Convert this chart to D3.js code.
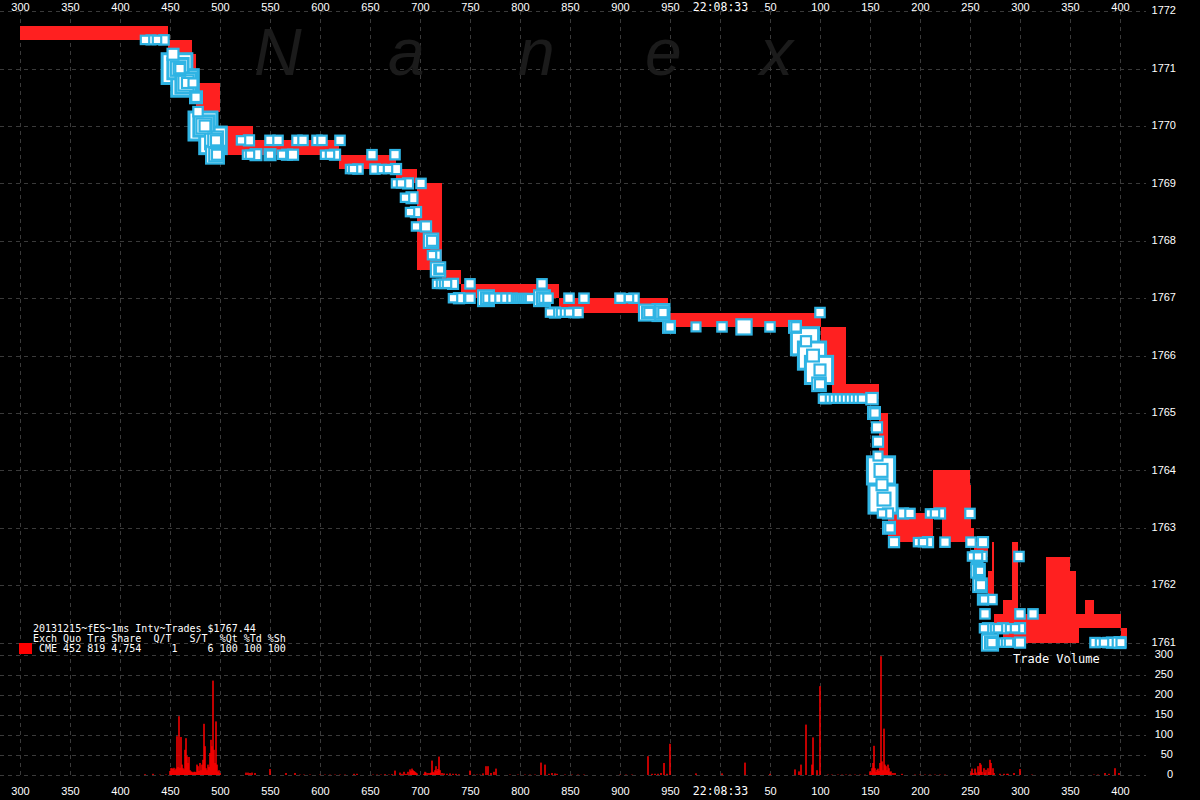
<!DOCTYPE html>
<html><head><meta charset="utf-8">
<script src="https://cdn.jsdelivr.net/npm/d3@7"></script>
<style>
html,body{margin:0;padding:0;background:#000;}
svg{display:block;}
text{white-space:pre;}
</style></head><body>
<svg id="c" width="1200" height="800"></svg>
<script>
// ---------- DATA ----------
// time in ms after 22:08:32.000 (1000 = 22:08:33)
const timeTicks = [300,350,400,450,500,550,600,650,700,750,800,850,900,950,1000,1050,1100,1150,1200,1250,1300,1350,1400];
const timeTickLabels = ["300","350","400","450","500","550","600","650","700","750","800","850","900","950","22:08:33","50","100","150","200","250","300","350","400"];
const priceTicks = [1761,1762,1763,1764,1765,1766,1767,1768,1769,1770,1771,1772];
const volumeTicks = [0,50,100,150,200,250,300];

// quotes: [start time, bid, ask] (each lasts until the next start)
const quotes = [
[300,1771.5,1771.75],[448,1771.25,1771.5],[472,1771.0,1771.25],[476,1770.25,1770.75],
[500,1769.5,1770.0],[533,1769.5,1769.75],[619,1769.25,1769.5],[676,1769.0,1769.25],
[697,1767.5,1769.0],[722,1767.25,1767.5],[741,1767.0,1767.25],[839,1766.75,1767.0],
[948,1766.5,1766.75],[1101,1765.5,1766.5],[1112,1765.25,1766.5],[1126,1765.25,1765.5],
[1159,1763.25,1765.0],[1168,1762.75,1763.25],[1213,1763.25,1764.0],[1222,1762.75,1764.0],
[1250,1762.75,1763.75],[1251,1762.75,1763.0],[1254,1762.5,1762.75],[1268,1761.75,1762.25],
[1272,1761.75,1762.75],[1274,1761.25,1761.5],[1283,1761.0,1761.75],[1292,1761.0,1762.75],
[1298,1761.0,1761.5],[1326,1761.0,1762.5],[1350,1761.0,1762.25],[1356,1761.0,1761.5],
[1359,1761.25,1761.5],[1365,1761.25,1761.75],[1374,1761.25,1761.5],[1401,1761.0,1761.25],
[1407,1761.0,1761.25]
];

// trades: [time, price, contracts]
const trades = [
[425,1771.5,1],[431,1771.5,2],[437,1771.5,1],[444,1771.5,3],
[453,1771.25,8],
[457,1771,270],[458,1771,92],[458,1771,28],[459,1771,8],[460,1771,3],
[465,1770.75,200],[466,1770.75,92],[466,1770.75,35],[467,1770.75,5],[473,1770.75,2],
[476,1770.5,12],[476,1770.5,3],[478,1770.25,3],
[483,1770,230],[484,1770,92],[484,1770,35],[485,1770,8],
[493,1769.75,200],[494,1769.75,60],[495,1769.75,22],[496,1769.75,5],
[495,1769.5,60],[496,1769.5,22],[497,1769.5,5],
[521,1769.75,1],[529,1769.75,5],[550,1769.75,3],[558,1769.75,3],[577,1769.75,3],[583,1769.75,3],[597,1769.75,3],[602,1769.75,3],[620,1769.75,3],
[527,1769.5,1],[530,1769.5,1],[536,1769.5,8],[550,1769.5,8],[550,1769.5,1],[562,1769.5,1],[567,1769.5,5],[573,1769.5,5],[605,1769.5,1],[610,1769.5,1],[615,1769.5,5],[652,1769.5,3],[675,1769.5,3],
[630,1769.25,1],[633,1769.25,1],[638,1769.25,3],[655,1769.25,3],[662,1769.25,1],[668,1769.25,1],[676,1769.25,5],
[676,1769,1],[681,1769,1],[688,1769,5],[701,1769,3],
[685,1768.75,1],[692,1768.75,8],
[690,1768.5,1],[696,1768.5,5],
[696,1768.25,1],[706,1768.25,5],
[711,1768,28],[712,1768,5],
[712,1767.75,1],[716,1767.75,3],
[718,1767.5,28],[719,1767.5,3],[720,1767.5,1],
[717,1767.25,1],[721,1767.25,1],[724,1767.25,1],[727,1767.25,1],[733,1767.25,5],[750,1767.25,3],[822,1767.25,3],
[733,1767,1],[739,1767,5],[750,1767,3],[766,1767,40],[767,1767,12],[768,1767,3],[774,1767,3],[780,1767,3],[786,1767,3],[792,1767,3],
[796,1767,1],[798,1767,1],[800,1767,1],[802,1767,1],[804,1767,1],[806,1767,1],[808,1767,1],[810,1767,1],
[822,1767,40],[823,1767,12],[824,1767,3],[828,1767,3],[849,1767,3],[864,1767,3],[900,1767,3],[909,1767,1],[914,1767,3],
[830,1766.75,1],[835,1766.75,5],[841,1766.75,1],[845,1766.75,1],[849,1766.75,1],[854,1766.75,3],[858,1766.75,3],
[927,1766.75,42],[928,1766.75,12],[929,1766.75,3],[941,1766.75,51],[942,1766.75,16],[943,1766.75,3],[1100,1766.75,3],
[949,1766.5,12],[950,1766.5,3],[976,1766.5,2],[1002,1766.5,3],[1024,1766.5,35],[1050,1766.5,3],[1075,1766.5,12],[1076,1766.5,3],
[1085,1766.25,212],[1086,1766.25,5],
[1092,1766,212],[1093,1766,12],
[1099,1765.75,212],[1100,1765.75,8],
[1099,1765.5,22],[1100,1765.5,5],
[1103,1765.25,1],[1106,1765.25,3],[1110,1765.25,1],[1114,1765.25,1],[1118,1765.25,1],[1122,1765.25,1],[1126,1765.25,1],[1130,1765.25,1],[1134,1765.25,1],[1138,1765.25,1],[1142,1765.25,1],[1152,1765.25,10],
[1154,1765,12],[1155,1765,3],
[1157,1764.75,5],[1158,1764.5,5],[1158,1764.25,2],
[1161,1764,212],[1161,1764,18],[1162,1763.75,8],
[1163,1763.5,230],[1164,1763.5,18],
[1162,1763.25,1],[1168,1763.25,5],[1183,1763.25,5],[1190,1763.25,3],[1210,1763.25,1],[1215,1763.25,1],[1220,1763.25,5],[1250,1763.25,3],
[1169,1763,12],[1170,1763,3],
[1174,1762.75,5],[1198,1762.75,1],[1203,1762.75,1],[1208,1762.75,5],[1225,1762.75,3],[1251,1762.75,3],[1263,1762.75,5],
[1252,1762.5,1],[1257,1762.5,8],[1258,1762.5,1],[1262,1762.5,3],[1299,1762.5,3],
[1258,1762.25,22],[1259,1762.25,5],[1260,1762.25,1],
[1260,1762,22],[1261,1762,5],
[1263,1761.75,5],[1264,1761.75,1],[1272,1761.75,3],
[1265,1761.5,3],[1300,1761.5,3],[1313,1761.5,3],
[1264,1761.25,1],[1268,1761.25,5],[1275,1761.25,1],[1278,1761.25,1],[1283,1761.25,5],[1290,1761.25,1],[1295,1761.25,1],[1300,1761.25,5],
[1270,1761,42],[1271,1761,12],[1272,1761,3],[1283,1761,1],[1286,1761,1],[1289,1761,1],[1300,1761,5],
[1375,1761,3],[1380,1761,1],[1384,1761,1],[1388,1761,3],[1392,1761,5],[1400,1761,8],[1401,1761,2]
];

// volume per ms: [time, contracts]
const volume = [
[425,2],[433,3],[440,1],[446,1],
[450,10],[451,17],[452,17],[453,15],[454,18],[455,12],[456,16],[457,97],[458,20],[459,147],[460,18],[461,95],[462,26],[463,17],[464,14],[465,63],[466,92],[467,47],[468,30],[469,45],[470,12],[471,9],[472,8],[473,6],[474,8],[475,8],[476,7],[477,26],[478,22],[479,10],[480,30],[481,12],[482,26],[483,38],[484,128],[485,72],[486,17],[487,12],[488,26],[489,20],[490,55],[491,88],[492,72],[493,236],[494,63],[495,30],[496,134],[497,26],[498,9],[499,12],[500,5],
[526,6],[528,6],[530,5],[532,6],[535,5],[550,15],[566,5],[575,5],[580,1],[584,1],[590,1],[600,1],[605,1],[610,1],[615,1],[620,1],[625,1],[634,3],[637,3],
[653,1],[657,1],[661,1],[665,2],[669,1],[672,2],[675,11],[680,6],[682,3],[684,8],[686,3],[688,8],[690,14],[691,10],[692,16],[693,12],[694,10],[695,8],[696,6],[697,4],
[704,3],[705,8],[706,6],[708,5],[710,5],[711,6],[712,36],[713,8],[714,6],[715,12],[716,22],[717,10],[718,15],[719,46],[720,12],[722,5],[724,4],
[727,3],[730,4],[733,3],[736,3],[739,2],[750,11],[754,1],[757,1],[760,1],[763,4],[766,22],[768,22],[771,5],[774,8],[776,16],
[790,1],[798,1],[805,1],[810,1],[815,1],[821,31],[825,26],[829,3],[832,5],[835,4],[837,3],[845,1],[852,1],[858,1],[864,1],
[900,1],[906,1],[912,1],[928,47],[932,3],[935,3],[938,3],[941,5],[944,30],[947,3],[950,78],[976,4],[1002,4],[1025,31],[1050,3],
[1075,14],[1079,9],[1081,26],[1086,126],[1092,26],[1093,94],[1097,12],[1100,222],
[1108,1],[1112,1],[1118,1],[1122,1],[1126,1],[1130,1],[1135,1],[1140,1],[1145,1],
[1150,9],[1151,6],[1152,17],[1153,30],[1154,73],[1155,17],[1156,8],[1157,13],[1158,16],[1159,10],[1160,30],[1161,297],[1162,34],[1163,12],[1164,116],[1165,26],[1166,22],[1167,12],[1168,26],[1169,17],[1170,8],[1171,9],[1173,5],[1175,5],
[1182,3],[1195,1],[1200,1],[1205,1],[1210,1],[1215,1],[1220,1],[1225,1],
[1251,6],[1252,16],[1253,5],[1255,16],[1256,6],[1258,22],[1259,8],[1260,30],[1261,26],[1262,8],[1264,17],[1265,6],[1266,13],[1268,17],[1269,8],[1270,38],[1271,30],[1273,17],[1274,5],
[1280,3],[1284,3],[1287,3],[1288,3],[1294,5],[1300,15],[1312,1],[1374,1],[1378,1],[1385,5],[1389,3],[1395,17],[1399,5]
];

// ---------- CHART ----------
const svg = d3.select("#c");
svg.append("rect").attr("width",1200).attr("height",800).attr("fill","#000");

const x = d3.scaleLinear().domain([300,1400]).range([20,1120]);
const yP = d3.scaleLinear().domain([1761,1772]).range([642.6,11.2]);
const yV = d3.scaleLinear().domain([0,300]).range([775,655]);
const sz = d3.scaleSqrt().domain([0,300]).range([7,31]);

const gridColor = "#3a3a3a";
const gGrid = svg.append("g").attr("stroke",gridColor).attr("stroke-width",1).attr("stroke-dasharray","4,4").attr("shape-rendering","crispEdges");
gGrid.selectAll("line.v").data(timeTicks).join("line").attr("class","v")
  .attr("x1",d=>Math.round(x(d))+0.5).attr("x2",d=>Math.round(x(d))+0.5).attr("y1",yP(1772)).attr("y2",yV(0));
gGrid.selectAll("line.hp").data(priceTicks).join("line").attr("class","hp")
  .attr("x1",0).attr("x2",1146).attr("y1",d=>Math.round(yP(d))+0.5).attr("y2",d=>Math.round(yP(d))+0.5);
gGrid.selectAll("line.hv").data(volumeTicks).join("line").attr("class","hv")
  .attr("x1",0).attr("x2",1146).attr("y1",d=>Math.round(yV(d))+0.5).attr("y2",d=>Math.round(yV(d))+0.5);

// watermark
const wm = svg.append("g").attr("fill","#1b1b1b").attr("font-family","Liberation Sans, Arial, sans-serif")
  .attr("font-style","italic").attr("font-size",66);
[["N",254],["a",388],["n",518],["e",645],["x",760]].forEach(([c,px])=>{
  wm.append("text").attr("x",px).attr("y",75).text(c);
});

// quote band
const segs = quotes.slice(0,-1).map((q,i)=>({t0:q[0],t1:quotes[i+1][0],bid:q[1],ask:q[2]}));
svg.append("g").attr("fill","#ff2020").attr("shape-rendering","crispEdges")
  .selectAll("rect").data(segs).join("rect")
  .attr("x",d=>x(d.t0)).attr("width",d=>Math.max(1,x(d.t1)-x(d.t0)))
  .attr("y",d=>yP(d.ask)).attr("height",d=>yP(d.bid)-yP(d.ask));

// volume bars
svg.append("g").attr("fill","#ff0000")
  .selectAll("rect").data(volume).join("rect")
  .attr("x",d=>x(d[0])-0.75).attr("width",1.5)
  .attr("y",d=>yV(d[1])).attr("height",d=>yV(0)-yV(d[1]));

// trade markers
const tr = trades.map((d,i)=>({t:d[0],p:d[1],v:d[2],i})).sort((a,b)=>(b.v-a.v)||(a.i-b.i));
svg.append("g").selectAll("rect").data(tr).join("rect")
  .attr("x",d=>x(d.t)-sz(d.v)/2).attr("y",d=>yP(d.p)-sz(d.v)/2)
  .attr("width",d=>sz(d.v)).attr("height",d=>sz(d.v))
  .attr("fill","#ffffff").attr("stroke","#2fb4e4")
  .attr("stroke-width",d=>sz(d.v)>18?3:2.2);

// axes
const numFont = "Liberation Sans, Arial, sans-serif";
function styleAxis(g){
  g.select(".domain").remove();
  g.selectAll("line").remove();
  g.selectAll("text").attr("fill","#fff").attr("font-family",numFont).attr("font-size",11);
}
const topAx = svg.append("g").attr("transform","translate(0,11)")
  .call(d3.axisTop(x).tickValues(timeTicks).tickFormat((d,i)=>timeTickLabels[i]).tickSize(0).tickPadding(0));
styleAxis(topAx);
const botAx = svg.append("g").attr("transform","translate(0,787)")
  .call(d3.axisBottom(x).tickValues(timeTicks).tickFormat((d,i)=>timeTickLabels[i]).tickSize(0).tickPadding(0));
styleAxis(botAx);
[topAx,botAx].forEach(g=>g.selectAll("text").filter(function(){return this.textContent.indexOf(":")>=0;})
  .attr("font-family","DejaVu Sans Mono, monospace").attr("font-size",11.5));

const pAx = svg.append("g").attr("transform","translate(1176,0)")
  .call(d3.axisRight(yP).tickValues(priceTicks).tickFormat(d3.format("d")).tickSize(0).tickPadding(0));
styleAxis(pAx);
pAx.selectAll("text").attr("text-anchor","end").attr("x",0).attr("dy","0.25em");

const vAx = svg.append("g").attr("transform","translate(1173,0)")
  .call(d3.axisRight(yV).tickValues(volumeTicks).tickFormat(d3.format("d")).tickSize(0).tickPadding(0));
styleAxis(vAx);
vAx.selectAll("text").attr("text-anchor","end").attr("x",0).attr("dy","0.2em");

// legend
const legendLines = [
  "20131215~fES~1ms Intv~Trades $1767.44",
  "Exch Quo Tra Share  Q/T   S/T  %Qt %Td %Sh",
  " CME 452 819 4,754     1     6 100 100 100"
];
const lg = svg.append("g").attr("font-family","DejaVu Sans Mono, monospace").attr("font-size",10).attr("fill","#fff");
legendLines.forEach((s,i)=>lg.append("text").attr("x",33).attr("y",632+i*10).text(s));
svg.append("rect").attr("x",19).attr("y",643).attr("width",13).attr("height",11).attr("fill","#ff0000");

svg.append("text").attr("x",1013).attr("y",663).attr("fill","#fff")
  .attr("font-family","DejaVu Sans Mono, monospace").attr("font-size",12).text("Trade Volume");
</script>
</body></html>
